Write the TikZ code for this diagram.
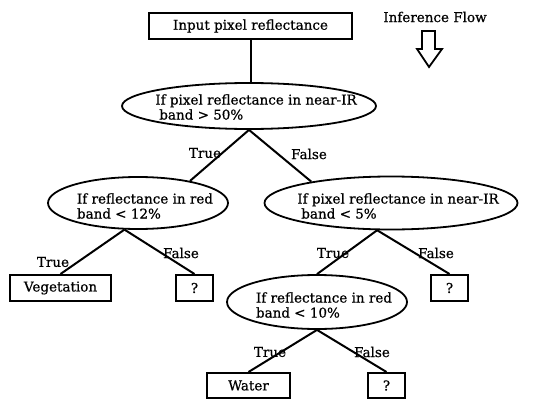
\documentclass[tikz,border=0pt]{standalone}
\usepackage{fontspec}
\setmainfont{DejaVu Serif}[FakeBold=0.7]
\usetikzlibrary{shapes.geometric}
\begin{document}
\begin{tikzpicture}[x=1pt,y=-1pt,
  every node/.style={font=\fontsize{13.5}{15}\selectfont},
  box/.style={draw, line width=2pt, rectangle, minimum height=26pt, inner sep=0pt},
  cond/.style={draw, line width=1.8pt, ellipse, inner sep=0pt},
  condtext/.style={align=left, inner sep=0pt},
  edge/.style={line width=2pt},
  lbl/.style={inner sep=0pt}]
\useasboundingbox (0,0) rectangle (545,412);

% boxes
\node[box, minimum width=203pt] (top) at (250.5,26) {Input pixel reflectance};
\node[box, minimum width=101pt] (veg) at (60.5,288) {Vegetation};
\node[box, minimum width=37pt] (q1) at (194.5,288) {?};
\node[box, minimum width=37pt] (q2) at (449.5,288) {?};
\node[box, minimum width=83pt, minimum height=25pt] (water) at (248.5,385.5) {Water};
\node[box, minimum width=37pt, minimum height=25pt] (q3) at (386.5,385.5) {?};

% conditions
\node[cond, minimum width=254pt, minimum height=46pt] (e1) at (249,106) {};
\node[condtext] (e1t) at ([shift={(7,1)}]e1.center) {If pixel reflectance in near-IR\\\hspace{4pt}band > 50\%};
\node[cond, minimum width=180pt, minimum height=52pt] (e2) at (138,203) {};
\node[condtext] (e2t) at ([shift={(7,3)}]e2.center) {If reflectance in red\\band < 12\%};
\node[cond, minimum width=253pt, minimum height=53pt] (e3) at (391,203) {};
\node[condtext] (e3t) at ([shift={(7,3)}]e3.center) {If pixel reflectance in near-IR\\\hspace{4pt}band < 5\%};
\node[cond, minimum width=180pt, minimum height=54pt] (e4) at (317,302) {};
\node[condtext] (e4t) at ([shift={(7,3)}]e4.center) {If reflectance in red\\band < 10\%};

% connectors
\draw[edge] (top.south) -- (top.south |- e1.north);
\draw[edge] (e1.south) -- (e2.23);
\draw[edge] (e1.south) -- (e3.165);
\draw[edge] (e2.243) -- (veg.north);
\draw[edge] (e2.243) -- (q1.north);
\draw[edge] (e3.243) -- (e4.north);
\draw[edge] (e3.243) -- (q2.north);
\draw[edge] (e4.south) -- (water.north);
\draw[edge] (e4.south) -- (q3.north);

% labels
\node[lbl] (t1) at (205,153) {True};
\node[lbl] (f1) at (309,154) {False};
\node[lbl] (t2) at (53,262) {True};
\node[lbl] (f2) at (181,253) {False};
\node[lbl] (t3) at (333,253) {True};
\node[lbl] (f3) at (436,253) {False};
\node[lbl] (t4) at (270,352) {True};
\node[lbl] (f4) at (372,352) {False};

% inference flow
\node[lbl] (inf) at (435,17) {Inference Flow};
\draw[line width=1.8pt, line join=miter] (422,31) -- (435,31) -- (435,49) -- (442,49) -- (429,67) -- (417,49) -- (422,49) -- cycle;
\end{tikzpicture}
\end{document}
